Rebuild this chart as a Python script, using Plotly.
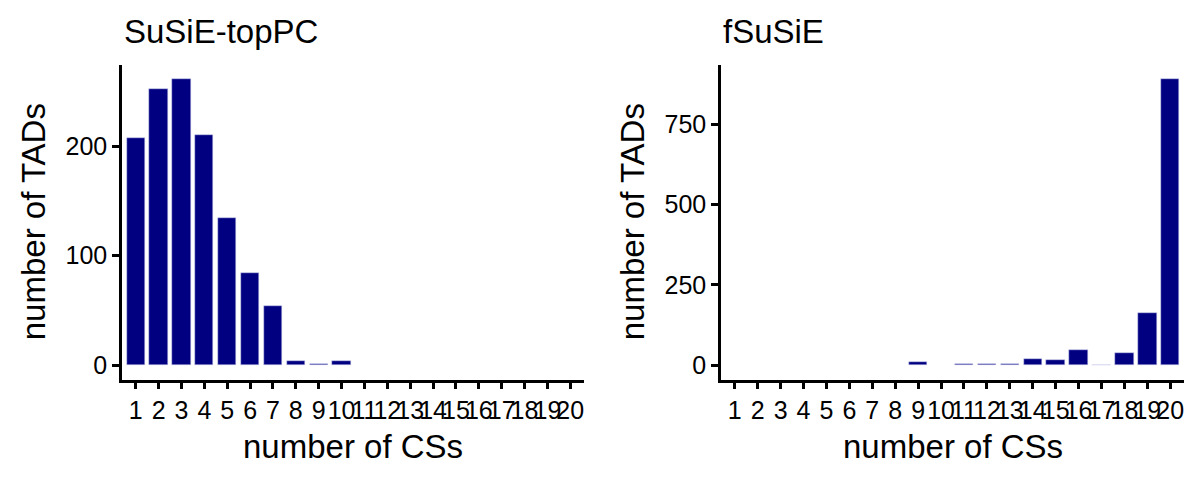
import plotly.graph_objects as go

# number of credible sets per TAD
cs_counts = list(range(1, 21))
susie_toppc = [207, 252, 261, 210, 134, 84, 54, 4, 1, 4, 0, 0, 0, 0, 0, 0, 0, 0, 0, 0]
fsusie = [0, 0, 0, 0, 0, 0, 0, 0, 10, 0, 3, 5, 4, 19, 16, 47, 2, 37, 161, 890]

panel_titles = ["SuSiE-topPC", "fSuSiE"]
x_title = "number of CSs"
y_title = "number of TADs"

FONT = "Liberation Sans, Arial, sans-serif"
BAR = "#000080"

# the page body has an 8px margin, so the figure is a bit smaller and
# positions are given in page pixels then shifted
OFF = 8
W, H = 1200 - OFF, 480 - OFF


def fx(p):
    return (p - OFF) / W


def fy(p):
    return (H - (p - OFF)) / H


def nonzero(vals):
    # empty categories get no bar at all (no outline either)
    return [v if v else None for v in vals]


fig = go.Figure()

fig.add_trace(go.Bar(x=cs_counts, y=nonzero(susie_toppc), width=0.8,
                     marker=dict(color=BAR, line=dict(color="#ccccee", width=0.5)),
                     xaxis="x", yaxis="y", showlegend=False))
fig.add_trace(go.Bar(x=cs_counts, y=nonzero(fsusie), width=0.8,
                     marker=dict(color=BAR, line=dict(color="#ccccee", width=0.5)),
                     xaxis="x2", yaxis="y2", showlegend=False))

y_dom = [fy(379.5), fy(65)]
x_doms = [[fx(122), fx(584)], [fx(721), fx(1184)]]

axis_common = dict(showline=True, linecolor="black", linewidth=2.5,
                   ticks="outside", ticklen=7, tickwidth=2.5, tickcolor="black",
                   showgrid=False, zeroline=False, automargin=False, tickangle=0,
                   tickfont=dict(family=FONT, size=25, color="black"))

fig.update_layout(
    template="none",
    width=W, height=H,
    margin=dict(l=0, r=0, t=0, b=0),
    plot_bgcolor="white", paper_bgcolor="white",
    bargap=0,
    xaxis=dict(domain=x_doms[0], range=[0.4, 20.6], tickvals=cs_counts,
               anchor="y", **axis_common),
    yaxis=dict(domain=y_dom, range=[-0.05 * max(susie_toppc), 1.05 * max(susie_toppc)],
               tickvals=[0, 100, 200], anchor="x", **axis_common),
    xaxis2=dict(domain=x_doms[1], range=[0.4, 20.6], tickvals=cs_counts,
                anchor="y2", **axis_common),
    yaxis2=dict(domain=y_dom, range=[-0.05 * max(fsusie), 1.05 * max(fsusie)],
                tickvals=[0, 250, 500, 750], anchor="x2", **axis_common),
)

title_font = dict(family=FONT, size=33, color="black")
left_px = [122, 721]
for i, dom in enumerate(x_doms):
    fig.add_annotation(text=panel_titles[i], x=dom[0], y=fy(32),
                       xref="paper", yref="paper", xanchor="left", yanchor="middle",
                       showarrow=False, font=title_font)
    fig.add_annotation(text=x_title, x=(dom[0] + dom[1]) / 2, y=fy(446),
                       xref="paper", yref="paper", xanchor="center", yanchor="middle",
                       showarrow=False, font=title_font)
    fig.add_annotation(text=y_title, x=fx(left_px[i] - 89), y=sum(y_dom) / 2,
                       xref="paper", yref="paper", xanchor="center", yanchor="middle",
                       textangle=-90, showarrow=False, font=title_font)

fig.write_html("out.html")
